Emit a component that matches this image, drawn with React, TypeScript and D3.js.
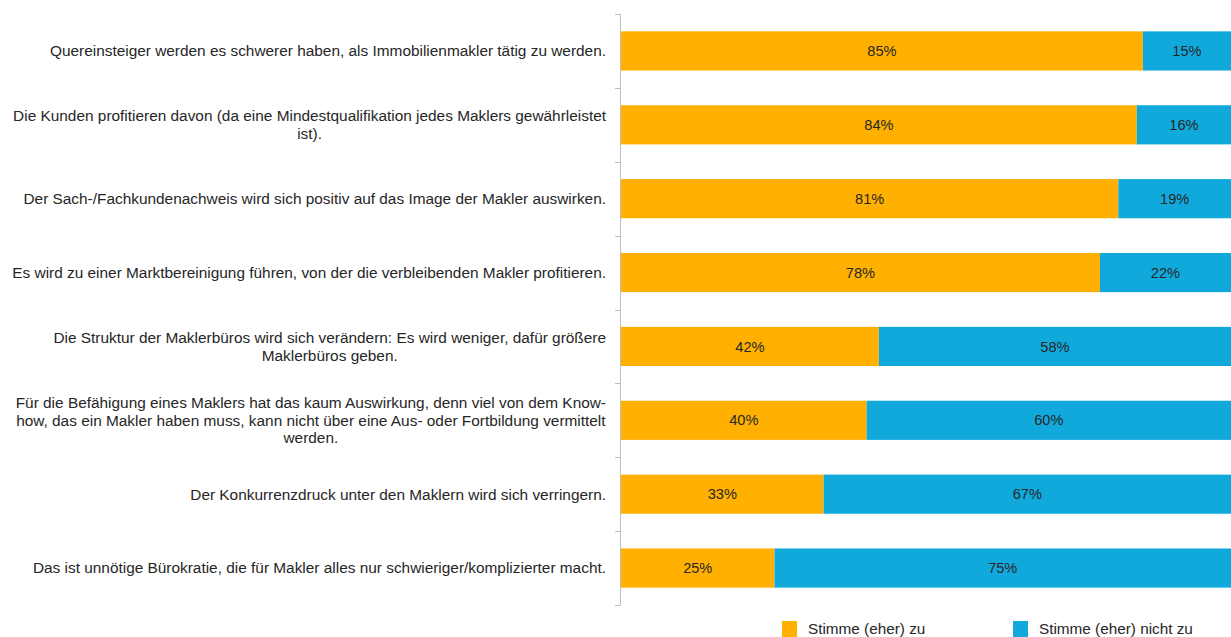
import React, { useEffect, useRef } from 'react';
import * as d3 from 'd3';

// statements (line breaks as in the original chart)
const statements = [
  'Quereinsteiger werden es schwerer haben, als Immobilienmakler tätig zu werden.',
  'Die Kunden profitieren davon (da eine Mindestqualifikation jedes Maklers gewährleistet\nist).',
  'Der Sach-/Fachkundenachweis wird sich positiv auf das Image der Makler auswirken.',
  'Es wird zu einer Marktbereinigung führen, von der die verbleibenden Makler profitieren.',
  'Die Struktur der Maklerbüros wird sich verändern: Es wird weniger, dafür größere\nMaklerbüros geben.',
  'Für die Befähigung eines Maklers hat das kaum Auswirkung, denn viel von dem Know-\nhow, das ein Makler haben muss, kann nicht über eine Aus- oder Fortbildung vermittelt\nwerden.',
  'Der Konkurrenzdruck unter den Maklern wird sich verringern.',
  'Das ist unnötige Bürokratie, die für Makler alles nur schwieriger/komplizierter macht.',
];

const agree = [85, 84, 81, 78, 42, 40, 33, 25];
const disagree = [15, 16, 19, 22, 58, 60, 67, 75];

const seriesNames = ['Stimme (eher) zu', 'Stimme (eher) nicht zu'];
const seriesColors = ['#FFB000', '#11A9DC'];

const W = 1231;
const H = 637;

export default function App() {
  const ref = useRef<SVGSVGElement>(null);

  useEffect(() => {
    document.body.style.margin = '0';
    const svg = d3.select(ref.current);
    svg.selectAll('*').remove();

    const font = '"Liberation Sans", Arial, sans-serif';
    const textColor = '#262626';
    const margin = { top: 14, left: 620, bottom: 32 };

    const rows = statements.map((s, i) => ({ label: s, values: [agree[i], disagree[i]] }));

    const y = d3.scaleBand<number>()
      .domain(d3.range(rows.length))
      .range([margin.top, H - margin.bottom])
      .paddingInner(0.47)
      .paddingOuter(0.235);

    const x = d3.scaleLinear().domain([0, 100]).range([margin.left + 1, margin.left + 1 + 614]);

    const stack = d3.stack<any, number>()
      .keys([0, 1])
      .value((d, k) => d.values[k]);
    const layers = stack(rows);

    const g = svg.append('g');
    layers.forEach((layer, k) => {
      const lg = g.append('g');
      lg.selectAll('rect')
        .data(layer)
        .join('rect')
        .attr('x', d => x(d[0]))
        .attr('y', (d, i) => y(i)!)
        .attr('width', d => x(d[1]) - x(d[0]))
        .attr('height', y.bandwidth())
        .attr('fill', seriesColors[k]);
      lg.selectAll('text')
        .data(layer)
        .join('text')
        .attr('x', d => (x(d[0]) + Math.min(x(d[1]), W)) / 2)
        .attr('y', (d, i) => y(i)! + y.bandwidth() / 2)
        .attr('dy', '0.35em')
        .attr('text-anchor', 'middle')
        .attr('font-family', font)
        .attr('font-size', 14.6)
        .attr('fill', textColor)
        .text((d, i) => rows[i].values[k] + '%');
    });

    // category axis: line + ticks at band boundaries
    const axis = svg.append('g').attr('stroke', '#BFBFBF').attr('stroke-width', 1);
    axis.append('line')
      .attr('x1', margin.left + 0.5).attr('x2', margin.left + 0.5)
      .attr('y1', margin.top).attr('y2', H - margin.bottom);
    const step = y.step();
    axis.selectAll('line.tick')
      .data(d3.range(rows.length + 1))
      .join('line')
      .attr('class', 'tick')
      .attr('x1', margin.left - 5).attr('x2', margin.left + 0.5)
      .attr('y1', i => Math.round(margin.top + i * step) + 0.5)
      .attr('y2', i => Math.round(margin.top + i * step) + 0.5);

    // category labels, right aligned block with centred lines
    const lineH = 17.5;
    rows.forEach((r, i) => {
      const lines = r.label.split('\n');
      const cy = y(i)! + y.bandwidth() / 2;
      const t = svg.append('text')
        .attr('font-family', font)
        .attr('font-size', 15.4)
        .attr('fill', textColor);
      lines.forEach((ln, j) => {
        t.append('tspan')
          .attr('y', cy + (j - (lines.length - 1) / 2) * lineH)
          .attr('dy', '0.35em')
          .text(ln);
      });
      const tspans = t.selectAll<SVGTSpanElement, unknown>('tspan').nodes();
      const widths = tspans.map(n => n.getComputedTextLength());
      const maxW = d3.max(widths)!;
      const right = 606;
      tspans.forEach((n, j) => {
        d3.select(n).attr('x', right - maxW / 2 - widths[j] / 2);
      });
    });

    // legend
    const legendX = [782, 1013];
    seriesNames.forEach((name, k) => {
      const lg = svg.append('g').attr('transform', `translate(${legendX[k]},621)`);
      lg.append('rect').attr('width', 15).attr('height', 16).attr('fill', seriesColors[k]);
      lg.append('text')
        .attr('x', 26)
        .attr('y', 8)
        .attr('dy', '0.35em')
        .attr('font-family', font)
        .attr('font-size', 15.3)
        .attr('fill', textColor)
        .text(name);
    });
  }, []);

  return <svg ref={ref} width={W} height={H} style={{ display: 'block', background: '#fff' }} />;
}
